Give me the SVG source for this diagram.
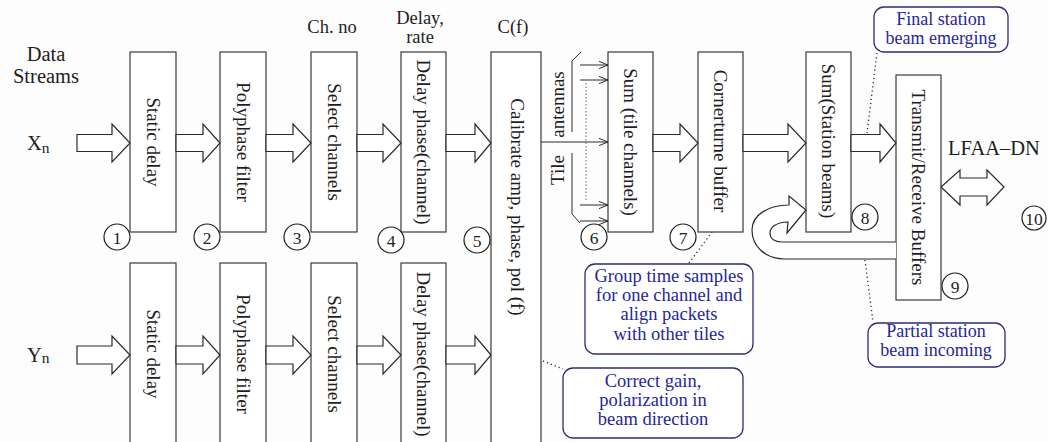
<svg xmlns="http://www.w3.org/2000/svg" width="1048" height="442" viewBox="0 0 1048 442" font-family="'Liberation Serif', 'Times New Roman', Times, serif">
  <style>
    text { font-family: 'Liberation Serif', 'Times New Roman', Times, serif; }
    .bg { fill: #fdfdfd; }
    .box { fill: #ffffff; stroke: #3a3a3a; stroke-width: 1.2; }
    .fat { fill: #ffffff; stroke: #2a2a2a; stroke-width: 1.2; stroke-linejoin: miter; }
    .lbl { font-size: 19px; fill: #1e1e1e; }
    .top { font-size: 18.5px; fill: #1e1e1e; text-anchor: middle; }
    .big { font-size: 20.5px; fill: #1e1e1e; }
    .vtxt { text-anchor: middle; dominant-baseline: central; }
    .num circle { fill: #ffffff; stroke: #1e1e1e; stroke-width: 1.2; }
    .num text { font-size: 17.5px; fill: #1e1e1e; text-anchor: middle; dominant-baseline: central; }
    .note rect { fill: #ffffff; stroke: #2c2c78; stroke-width: 1.3; }
    .note text { font-size: 18px; fill: #26269a; text-anchor: middle; }
    .note.wide text { font-size: 18.5px; }
    .thin { fill: none; stroke: #2a2a2a; stroke-width: 1; }
    .dot { fill: none; stroke: #333; stroke-width: 1.4; stroke-dasharray: 1.2 3; }
    .fine { fill: none; stroke: #555; stroke-width: 0.9; stroke-dasharray: 1.5 2; }
  </style>
  <defs>
    <marker id="open" viewBox="0 0 10 10" refX="10" refY="5" markerWidth="9" markerHeight="9" markerUnits="userSpaceOnUse" orient="auto">
      <path d="M0,1 L10,5 L0,9" fill="none" stroke="#2a2a2a" stroke-width="1.1"/>
    </marker>
  </defs>

  <rect class="bg" x="0" y="0" width="1048" height="442"/>

  <!-- stream labels and parameters above the columns -->
  <g id="labels">
    <text class="big" x="46" y="61" text-anchor="middle">Data</text>
    <text class="big" x="46" y="83" text-anchor="middle">Streams</text>
    <text class="big" x="27" y="150">X<tspan font-size="15.5" dy="3">n</tspan></text>
    <text class="big" x="27" y="362">Y<tspan font-size="15.5" dy="1">n</tspan></text>
    <text class="top" x="332" y="33">Ch. no</text>
    <text class="top" x="420" y="24">Delay,</text>
    <text class="top" x="420" y="43">rate</text>
    <text class="top" x="513" y="33">C(f)</text>
    <text class="big" x="948" y="155" font-size="22">LFAA–DN</text>
  </g>

  <!-- X polarisation chain -->
  <g id="x-static-delay">
    <rect class="box" x="130" y="52" width="46" height="180"/>
    <text class="lbl vtxt" transform="translate(153,142) rotate(90)">Static delay</text>
  </g>
  <g id="x-polyphase">
    <rect class="box" x="220" y="52" width="46" height="180"/>
    <text class="lbl vtxt" transform="translate(243,142) rotate(90)">Polyphase filter</text>
  </g>
  <g id="x-select">
    <rect class="box" x="311" y="52" width="46" height="180"/>
    <text class="lbl vtxt" transform="translate(334,142) rotate(90)">Select channels</text>
  </g>
  <g id="x-delay-phase">
    <rect class="box" x="401" y="52" width="45" height="180"/>
    <text class="lbl vtxt" transform="translate(423.5,142) rotate(90)">Delay phase(channel)</text>
  </g>

  <!-- Y polarisation chain -->
  <g id="y-static-delay">
    <rect class="box" x="130" y="263" width="46" height="190"/>
    <text class="lbl vtxt" transform="translate(153,354) rotate(90)">Static delay</text>
  </g>
  <g id="y-polyphase">
    <rect class="box" x="220" y="263" width="46" height="190"/>
    <text class="lbl vtxt" transform="translate(243,354) rotate(90)">Polyphase filter</text>
  </g>
  <g id="y-select">
    <rect class="box" x="311" y="263" width="46" height="190"/>
    <text class="lbl vtxt" transform="translate(334,354) rotate(90)">Select channels</text>
  </g>
  <g id="y-delay-phase">
    <rect class="box" x="401" y="263" width="45" height="190"/>
    <text class="lbl vtxt" transform="translate(423.5,354) rotate(90)">Delay phase(channel)</text>
  </g>

  <!-- shared stages -->
  <g id="calibrate">
    <rect class="box" x="491" y="52" width="50" height="400"/>
    <text class="lbl vtxt" font-size="22" transform="translate(517,207) rotate(90)">Calibrate amp, phase, pol (f)</text>
  </g>
  <g id="sum-tile">
    <rect class="box" x="608" y="52" width="45" height="180"/>
    <text class="lbl vtxt" transform="translate(630.5,142) rotate(90)">Sum (tile channels)</text>
  </g>
  <g id="cornerturn">
    <rect class="box" x="698" y="52" width="45" height="180"/>
    <text class="lbl vtxt" transform="translate(720.5,141) rotate(90)">Cornerturne buffer</text>
  </g>
  <g id="sum-station">
    <rect class="box" x="806" y="52" width="45" height="180"/>
    <text class="lbl vtxt" transform="translate(828.5,141) rotate(90)">Sum(Station beams)</text>
  </g>
  <g id="transmit-receive">
    <rect class="box" x="896" y="75" width="45" height="225"/>
    <text class="lbl vtxt" transform="translate(918.5,187.5) rotate(90)">Transmit/Receive Buffers</text>
  </g>

  <!-- connectors -->
  <g id="connectors">
    <!-- hollow block arrows, X row -->
    <polygon class="fat" points="77,134.5 112,134.5 112,124 130,143 112,162 112,151.5 77,151.5"/>
    <polygon class="fat" points="176,134.5 203,134.5 203,124 220,143 203,162 203,151.5 176,151.5"/>
    <polygon class="fat" points="266,134.5 293,134.5 293,124 311,143 293,162 293,151.5 266,151.5"/>
    <polygon class="fat" points="357,134.5 383,134.5 383,124 401,143 383,162 383,151.5 357,151.5"/>
    <polygon class="fat" points="446,134.5 475,134.5 475,124 491,143 475,162 475,151.5 446,151.5"/>
    <polygon class="fat" points="653,134.5 680,134.5 680,124 698,143 680,162 680,151.5 653,151.5"/>
    <polygon class="fat" points="743,134.5 788,134.5 788,124 806,143 788,162 788,151.5 743,151.5"/>
    <polygon class="fat" points="851,134.5 880,134.5 880,124 896,143 880,162 880,151.5 851,151.5"/>
    <!-- hollow block arrows, Y row -->
    <polygon class="fat" points="77,346 112,346 112,336 130,355 112,374 112,364 77,364"/>
    <polygon class="fat" points="176,346 203,346 203,336 220,355 203,374 203,364 176,364"/>
    <polygon class="fat" points="266,346 293,346 293,336 311,355 293,374 293,364 266,364"/>
    <polygon class="fat" points="357,346 383,346 383,336 401,355 383,374 383,364 357,364"/>
    <polygon class="fat" points="446,346 475,346 475,336 491,355 475,374 475,364 446,364"/>
    <!-- bidirectional link to the network -->
    <polygon class="fat" points="941,187 960,170 960,178 987,178 987,170 1004,187 987,205 987,196 960,196 960,205"/>
    <!-- partial beam loop back into the station beam sum -->
    <path class="fat" d="M896,259 H785 C765,259 752,246 752,230 C752,215 768,205 789,205 L789,196 L806,210 L787,233 L788,222 C777,222 770,227 770,233 C770,239 775,242 782,242 H896"/>

    <!-- antenna inputs into the tile sum -->
    <line class="thin" x1="541" y1="142" x2="608" y2="142" marker-end="url(#open)"/>
    <line class="thin" x1="580" y1="65" x2="608" y2="65" marker-end="url(#open)"/>
    <line class="thin" x1="580" y1="80" x2="608" y2="80" marker-end="url(#open)"/>
    <line class="thin" x1="580" y1="205" x2="608" y2="205" marker-end="url(#open)"/>
    <line class="thin" x1="580" y1="221" x2="608" y2="221" marker-end="url(#open)"/>
    <line class="fine" x1="586" y1="83" x2="586" y2="202"/>
    <path class="thin" d="M581,52 L572,61 V132"/>
    <path class="thin" d="M572,153 V214 L580,223"/>
    <text class="lbl vtxt" font-size="18.5" transform="translate(557,104.5) rotate(-90)">antennas</text>
    <text class="lbl vtxt" font-size="18.5" transform="translate(557,170) rotate(-90)">Tile</text>

    <!-- dotted callout leaders -->
    <path class="dot" d="M877,53 L867,133"/>
    <path class="dot" d="M689,263 L712,232"/>
    <path class="dot" d="M543,361 L563,369"/>
    <path class="dot" d="M865,260 L873,322"/>
  </g>

  <!-- stage numbers -->
  <g id="n1" class="num"><circle cx="117" cy="237" r="13"/><text x="117" y="238">1</text></g>
  <g id="n2" class="num"><circle cx="207" cy="237" r="13"/><text x="207" y="238">2</text></g>
  <g id="n3" class="num"><circle cx="297" cy="237" r="13"/><text x="297" y="238">3</text></g>
  <g id="n4" class="num"><circle cx="391" cy="240" r="13"/><text x="391" y="241">4</text></g>
  <g id="n5" class="num"><circle cx="477" cy="240" r="13"/><text x="477" y="241">5</text></g>
  <g id="n6" class="num"><circle cx="594" cy="237" r="13"/><text x="594" y="238">6</text></g>
  <g id="n7" class="num"><circle cx="683" cy="237" r="13"/><text x="683" y="238">7</text></g>
  <g id="n8" class="num"><circle cx="865" cy="217" r="13"/><text x="865" y="218">8</text></g>
  <g id="n9" class="num"><circle cx="955" cy="286" r="13"/><text x="955" y="287">9</text></g>
  <g id="n10" class="num"><circle cx="1034" cy="218" r="12"/><text x="1034" y="219">10</text></g>

  <!-- explanatory callouts -->
  <g id="note-final" class="note">
    <rect x="874" y="7" width="134" height="45" rx="10"/>
    <text x="941" y="25">Final station</text>
    <text x="941" y="44">beam emerging</text>
  </g>
  <g id="note-group" class="note wide">
    <rect x="585" y="264" width="168" height="90" rx="10"/>
    <text x="669" y="282">Group time samples</text>
    <text x="669" y="301">for one channel and</text>
    <text x="669" y="320">align packets</text>
    <text x="669" y="340">with other tiles</text>
  </g>
  <g id="note-gain" class="note wide">
    <rect x="563" y="368" width="180" height="70" rx="10"/>
    <text x="653" y="387">Correct gain,</text>
    <text x="653" y="406">polarization in</text>
    <text x="653" y="425">beam direction</text>
  </g>
  <g id="note-partial" class="note">
    <rect x="868" y="323" width="137" height="44" rx="10"/>
    <text x="936" y="337">Partial station</text>
    <text x="936" y="356">beam incoming</text>
  </g>
</svg>
